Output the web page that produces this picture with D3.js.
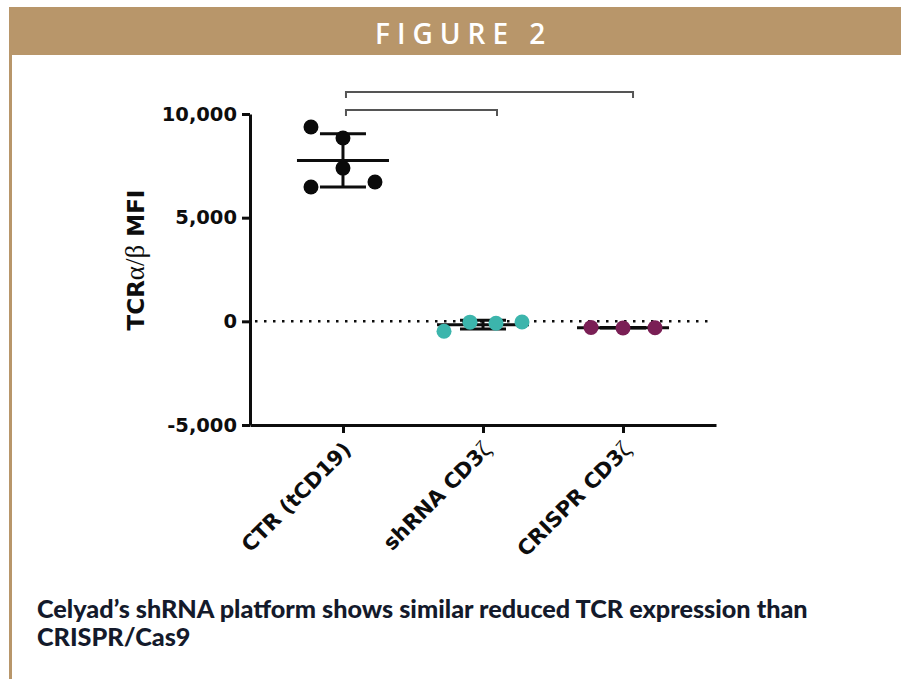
<!DOCTYPE html>
<html>
<head>
<meta charset="utf-8">
<script src="https://cdn.jsdelivr.net/npm/d3@7"></script>
<style>
  html, body { margin: 0; padding: 0; background: #ffffff; }
  svg { display: block; }
</style>
</head>
<body>
<svg id="chart" width="901" height="679"></svg>
<script>
// Groups on the x axis
const categories = ["CTR (tCD19)", "shRNA CD3ζ", "CRISPR CD3ζ"];

// TCRα/β MFI of each replicate, per group
const ctrValues = [8840, 7390, 9370, 6480, 6720];
const shrnaValues = [-90, -40, -30, -480];
const crisprValues = [-320, -300, -310];

// Y axis ticks
const yTicks = [-5000, 0, 5000, 10000];

// Significance comparisons (from group index to group index)
const comparisons = [[0, 2], [0, 1]];

const groups = [
  { name: categories[0], values: ctrValues, color: "#0a0a0a" },
  { name: categories[1], values: shrnaValues, color: "#3cb5ac" },
  { name: categories[2], values: crisprValues, color: "#7a1f55" }
];

const svg = d3.select("#chart");
const gold = "#b8966a";
const ink = "#0d0d0d";

// Header banner and side rule
svg.append("rect").attr("x", 9).attr("y", 7).attr("width", 892).attr("height", 48).attr("fill", gold);
svg.append("rect").attr("x", 9).attr("y", 55).attr("width", 3).attr("height", 624).attr("fill", gold);

svg.append("text")
  .attr("x", 375).attr("y", 44)
  .attr("fill", "#ffffff")
  .style("font-family", "'Open Sans', sans-serif")
  .style("font-weight", 600)
  .style("font-size", "28px")
  .style("letter-spacing", "7px")
  .text("FIGURE 2");

// Scales
const y = d3.scaleLinear().domain([-5000, 10000]).range([425, 114]);
const x = d3.scalePoint().domain(categories).range([250, 716]).padding(0.664);

const plot = svg.append("g");

// Y axis (plain hyphen for negatives)
const fmt = d3.format(",");
const yAxis = plot.append("g")
  .attr("transform", "translate(250,0)")
  .call(d3.axisLeft(y).tickValues(yTicks).tickFormat(d => fmt(d).replace("−", "-"))
    .tickSize(8).tickSizeOuter(0).tickPadding(5));
yAxis.select(".domain").attr("stroke", ink).attr("stroke-width", 3);
yAxis.selectAll(".tick line").attr("stroke", ink).attr("stroke-width", 3);
yAxis.selectAll(".tick text")
  .attr("fill", ink)
  .style("font-family", "'DejaVu Sans', sans-serif")
  .style("font-weight", "bold")
  .style("font-size", "19.5px");

// X axis
const xAxis = plot.append("g")
  .attr("transform", "translate(0,425)")
  .call(d3.axisBottom(x).tickSize(8).tickSizeOuter(0));
xAxis.select(".domain").attr("stroke", ink).attr("stroke-width", 3);
xAxis.selectAll(".tick line").attr("stroke", ink).attr("stroke-width", 3);
xAxis.selectAll(".tick text")
  .attr("x", 0).attr("y", 0).attr("dy", 0)
  .attr("text-anchor", "end")
  .attr("transform", "translate(9,26) rotate(-45)")
  .attr("fill", ink)
  .style("font-family", "'DejaVu Sans', sans-serif")
  .style("font-weight", "bold")
  .style("font-size", "21px")
  .each(function (d) {
    // Greek letters are set in a light symbol face
    const t = d3.select(this).text("");
    d.split(/(ζ)/).filter(s => s.length).forEach(part => {
      const ts = t.append("tspan").text(part);
      if (part === "ζ") ts.style("font-family", "'Liberation Serif', serif").style("font-weight", "normal").style("font-size", "24px");
    });
  });

// Y axis title
const yTitle = plot.append("text")
  .attr("transform", "translate(144,260) rotate(-90)")
  .attr("text-anchor", "middle")
  .attr("fill", ink)
  .style("font-family", "'DejaVu Sans', sans-serif")
  .style("font-weight", "bold")
  .style("font-size", "23px");
yTitle.append("tspan").text("TCR");
yTitle.append("tspan").style("font-family", "'Liberation Serif', serif").style("font-weight", "normal").style("font-size", "27px").text("α/β");
yTitle.append("tspan").text(" MFI");

// Zero reference line
plot.append("line")
  .attr("x1", 255).attr("x2", 712)
  .attr("y1", y(0)).attr("y2", y(0))
  .attr("stroke", ink).attr("stroke-width", 2.5)
  .attr("stroke-dasharray", "2.5,6.5");

// Spread replicates sideways so that overlapping points sit in neighbouring slots
function dodge(values, minDist, maxSpan, maxStep) {
  const placed = [];
  const order = [0, -1, 1, -2, 2, -3, 3, -4, 4];
  values.forEach(v => {
    const py = y(v);
    const slot = order.find(s => !placed.some(p => p.slot === s && Math.abs(p.py - py) < minDist));
    placed.push({ v, py, slot });
  });
  const lo = d3.min(placed, p => p.slot), hi = d3.max(placed, p => p.slot);
  const shift = -(lo + hi) / 2;
  const step = Math.min(maxStep, maxSpan / (hi - lo + 1));
  return placed.map(p => ({ ...p, dx: (p.slot + shift) * step }));
}

groups.forEach(gr => {
  const cx = x(gr.name);
  const mean = d3.mean(gr.values);
  const sd = d3.deviation(gr.values);
  const g = plot.append("g");

  // mean line
  g.append("line")
    .attr("x1", cx - 46).attr("x2", cx + 46)
    .attr("y1", y(mean)).attr("y2", y(mean))
    .attr("stroke", ink).attr("stroke-width", 3);
  // SD whisker and caps
  g.append("line")
    .attr("x1", cx).attr("x2", cx)
    .attr("y1", y(mean + sd)).attr("y2", y(mean - sd))
    .attr("stroke", ink).attr("stroke-width", 3);
  [mean + sd, mean - sd].forEach(v => {
    g.append("line")
      .attr("x1", cx - 23).attr("x2", cx + 23)
      .attr("y1", y(v)).attr("y2", y(v))
      .attr("stroke", ink).attr("stroke-width", 3);
  });

  // replicates
  g.selectAll("circle")
    .data(dodge(gr.values, 22, 104, 32))
    .join("circle")
    .attr("cx", d => cx + d.dx)
    .attr("cy", d => d.py)
    .attr("r", 7.5)
    .attr("fill", gr.color);
});

// Comparison brackets
const bracketLevels = [92, 110];
comparisons.forEach(([a, b], i) => {
  const x1 = x(categories[a]) + 3;
  const x2 = x(categories[b]) + (b === 2 ? 10 : 14);
  const yy = bracketLevels[i];
  plot.append("path")
    .attr("d", `M${x1},${yy + 6}V${yy}H${x2}V${yy + 6}`)
    .attr("fill", "none")
    .attr("stroke", "#555555")
    .attr("stroke-width", 2);
});

// Caption
const captionLines = [
  "Celyad’s shRNA platform shows similar reduced TCR expression than",
  "CRISPR/Cas9"
];
const caption = svg.append("g")
  .attr("fill", "#141a2b")
  .style("font-family", "Lato, sans-serif")
  .style("font-weight", 900)
  .style("font-size", "21px");
const first = caption.append("text").attr("x", 37).attr("y", 618).text(captionLines[0]);
const natural = first.node().getComputedTextLength();
caption.style("font-size", (21 * 771 / natural) + "px");
caption.append("text").attr("x", 37).attr("y", 646).text(captionLines[1]);
</script>
</body>
</html>
